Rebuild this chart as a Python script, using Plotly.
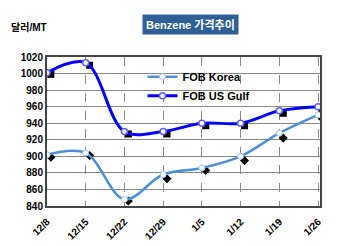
import plotly.graph_objects as go

dates = ["12/8", "12/15", "12/22", "12/29", "1/5", "1/12", "1/19", "1/26"]
fob_korea = [902, 904, 848, 878, 886, 900, 928, 950]
fob_usgulf = [1001, 1013, 930, 930, 940, 940, 955, 960]
korea_marks = [899, 901, 846, 873, 883, 895, 922, 946]
usgulf_marks = [999, 1010, 927, 927, 937, 937, 952, 958]
y_ticks = list(range(840, 1021, 20))

idx = list(range(len(dates)))
idx_off = [i + 0.1 for i in idx]

fig = go.Figure()
fig.add_trace(go.Scatter(x=idx_off, y=korea_marks, mode="markers", showlegend=False,
                         marker=dict(symbol="diamond", color="black", size=7), hoverinfo="skip"))
fig.add_trace(go.Scatter(x=idx_off, y=usgulf_marks, mode="markers", showlegend=False,
                         marker=dict(symbol="square", color="black", size=7), hoverinfo="skip"))
fig.add_trace(go.Scatter(x=idx, y=fob_korea, mode="lines+markers", name="FOB Korea",
                         line=dict(color="#4A8FD8", width=2.5, shape="spline", smoothing=1.0),
                         marker=dict(symbol="circle", color="white", size=6,
                                     line=dict(width=1, color="#9CC3EE"))))
fig.add_trace(go.Scatter(x=idx, y=fob_usgulf, mode="lines+markers", name="FOB US Gulf",
                         line=dict(color="#0000FF", width=3, shape="spline", smoothing=1.0),
                         marker=dict(symbol="circle", color="white", size=6,
                                     line=dict(width=1.5, color="#6060FF"))))

tick_font = dict(size=10, family="Liberation Sans, Arial", color="black", weight="bold")

fig.update_layout(
    width=350, height=246,
    margin=dict(l=47, r=30, t=57, b=40),
    paper_bgcolor="white", plot_bgcolor="white",
    font=dict(family="Liberation Sans, Arial, sans-serif", size=10, color="black"),
    showlegend=True,
    legend=dict(x=0.35, y=0.965, xanchor="left", yanchor="top", bgcolor="rgba(0,0,0,0)",
                font=dict(size=11, family="Liberation Sans, Arial", color="black", weight="bold"),
                itemwidth=30, tracegroupgap=0),
    xaxis=dict(range=[0, 7.05], tickmode="array", tickvals=idx, ticktext=dates,
               tickangle=-45, showgrid=True, gridcolor="#888888", griddash="dash", gridwidth=1,
               showline=True, linecolor="#444444", linewidth=2, mirror=True,
               tickfont=tick_font, ticks="outside", ticklen=4, tickcolor="white",
               zeroline=False, automargin=False),
    yaxis=dict(range=[840, 1020], tickmode="array", tickvals=y_ticks,
               showgrid=True, gridcolor="#888888", gridwidth=1,
               showline=True, linecolor="#444444", linewidth=2, mirror=True,
               tickfont=tick_font, ticks="", zeroline=False, automargin=False),
    annotations=[
        dict(text="<b>Benzene 가격추이</b>", xref="paper", yref="paper", x=0.527, y=1.0,
             yshift=33, xanchor="center", yanchor="middle", showarrow=False,
             font=dict(size=11, color="white", family="Liberation Sans, Noto Sans CJK KR"),
             bgcolor="#2F5F95", borderpad=3),
        dict(text="<b>달러/MT</b>", xref="paper", yref="paper", x=-0.14, y=1.0,
             yshift=30, xanchor="left", yanchor="middle", showarrow=False,
             font=dict(size=10, color="black", family="Liberation Sans, Noto Sans CJK KR")),
    ],
)

fig.write_html("out.html")
